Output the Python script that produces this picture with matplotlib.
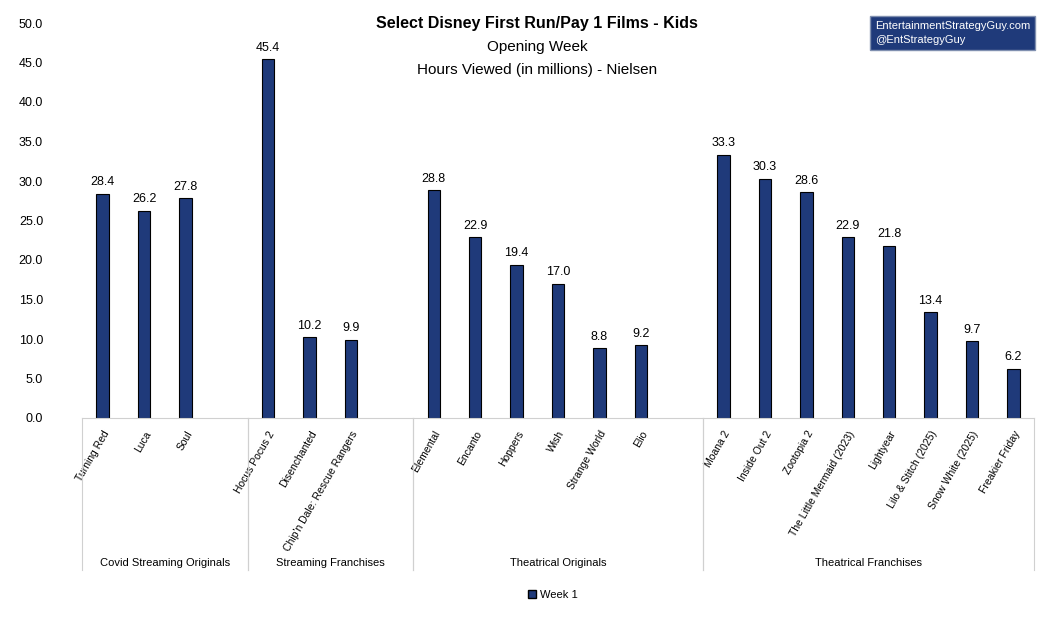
import matplotlib
matplotlib.use("Agg")
import matplotlib.pyplot as plt
from matplotlib.patches import Patch

plt.rcParams["font.family"] = ["Liberation Sans", "DejaVu Sans"]

films = ["Turning Red", "Luca", "Soul", None,
         "Hocus Pocus 2", "Disenchanted", "Chip'n Dale: Rescue Rangers", None,
         "Elemental", "Encanto", "Hoppers", "Wish", "Strange World", "Elio", None,
         "Moana 2", "Inside Out 2", "Zootopia 2", "The Little Mermaid (2023)",
         "Lightyear", "Lilo & Stitch (2025)", "Snow White (2025)", "Freakier Friday"]
hours = [28.4, 26.2, 27.8, None,
         45.4, 10.2, 9.9, None,
         28.8, 22.9, 19.4, 17.0, 8.8, 9.2, None,
         33.3, 30.3, 28.6, 22.9, 21.8, 13.4, 9.7, 6.2]
groups = ["Covid Streaming Originals", "Streaming Franchises",
          "Theatrical Originals", "Theatrical Franchises"]
group_bounds = [(-0.5, 3.5), (3.5, 7.5), (7.5, 14.5), (14.5, 22.5)]

navy = "#1F3A7A"
fig = plt.figure(figsize=(10.53, 6.25), dpi=100)
ax = fig.add_axes([82 / 1053, 1 - 418 / 625, (1034 - 82) / 1053, (418 - 23) / 625])

xs = [i for i, v in enumerate(hours) if v is not None]
vals = [v for v in hours if v is not None]
ax.bar(xs, vals, width=0.3, color=navy, edgecolor="black", linewidth=0.8)
for x, v in zip(xs, vals):
    ax.text(x, v + 0.7, f"{v:.1f}", ha="center", va="bottom", fontsize=9)

ax.set_xlim(-0.5, 22.5)
ax.set_ylim(0, 50)
ax.set_yticks(range(0, 51, 5))
ax.set_yticklabels([f"{t:.1f}" for t in range(0, 51, 5)], fontsize=9)
ax.set_xticks(xs)
ax.set_xticklabels([f for f in films if f is not None], rotation=60, ha="right",
                   rotation_mode="anchor", fontsize=7.5)
ax.tick_params(axis="both", length=0)
ax.tick_params(axis="x", pad=8)
ax.tick_params(axis="y", pad=28)
for s in ["top", "right", "left"]:
    ax.spines[s].set_visible(False)
ax.spines["bottom"].set_color("#d0d0d0")

# group separators and labels
for (lo, hi), name in zip(group_bounds, groups):
    for b in (lo, hi):
        ax.plot([b, b], [0, -19.3], color="#d0d0d0", lw=0.8, clip_on=False)
    ax.text((lo + hi) / 2, -18.3, name, ha="center", va="center", fontsize=8)

fig.text(0.51, 0.955, "Select Disney First Run/Pay 1 Films - Kids", ha="center",
         fontsize=11.5, weight="bold")
fig.text(0.51, 0.918, "Opening Week", ha="center", fontsize=11)
fig.text(0.51, 0.881, "Hours Viewed (in millions) - Nielsen", ha="center", fontsize=11)

fig.text(875 / 1053, 1 - 33 / 625,
         "EntertainmentStrategyGuy.com\n@EntStrategyGuy", ha="left", va="center",
         fontsize=8, color="white", linespacing=1.5,
         bbox=dict(boxstyle="square,pad=0.45", fc=navy, ec="#8090b0"))

fig.legend(handles=[Patch(facecolor=navy, edgecolor="black", label="Week 1")],
           loc="center", bbox_to_anchor=(0.525, 1 - 595 / 625), frameon=False,
           fontsize=8, handlelength=0.7, handleheight=0.7, handletextpad=0.3)

fig.savefig("out.png", dpi=100)
